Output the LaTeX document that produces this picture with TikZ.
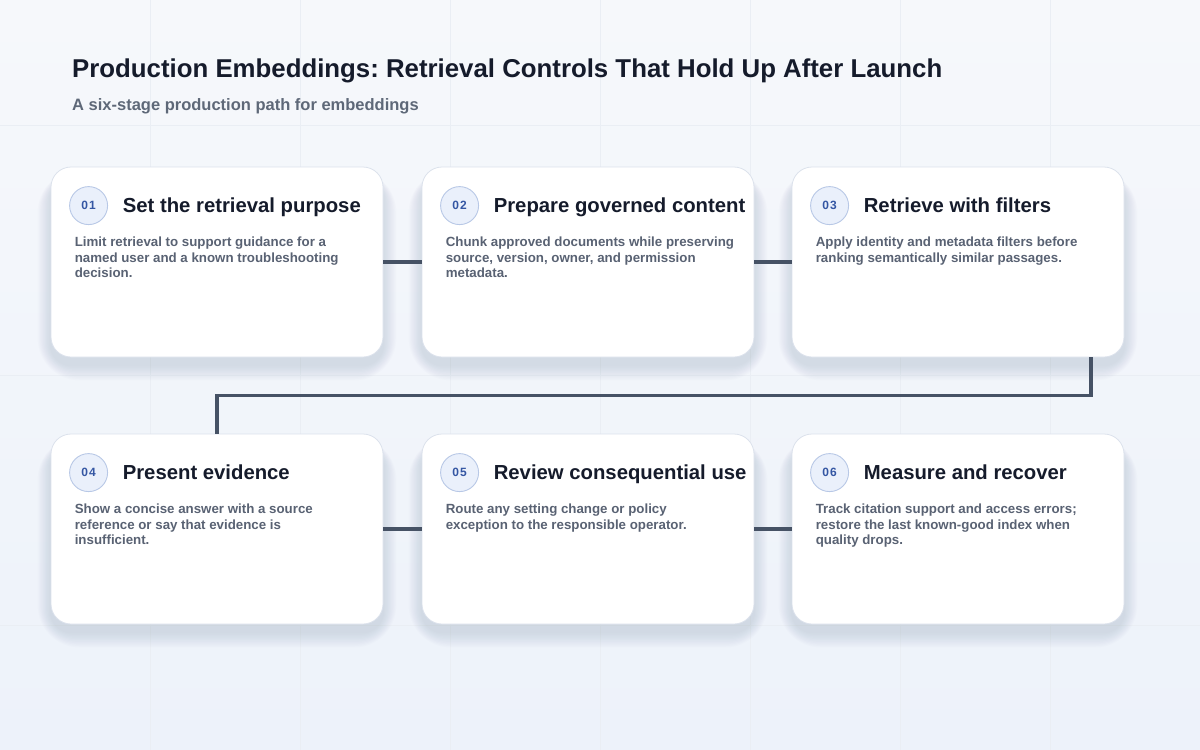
\documentclass[tikz,border=0pt]{standalone}
\usepackage{fontspec}
\setmainfont{Liberation Sans}
\frenchspacing
\usetikzlibrary{positioning,calc}
\definecolor{bgtop}{HTML}{F6F8FB}
\definecolor{bgbot}{HTML}{EDF2FA}
\definecolor{gridc}{HTML}{EAEEF4}
\definecolor{titlec}{HTML}{151B2B}
\definecolor{subc}{HTML}{5E6878}
\definecolor{bodyc}{HTML}{596273}
\definecolor{cardline}{HTML}{DCE2EC}
\definecolor{badgefill}{HTML}{EAF0FB}
\definecolor{badgeline}{HTML}{B8C8E6}
\definecolor{badgetext}{HTML}{3456A3}
\definecolor{linkc}{HTML}{465265}
\definecolor{shadowc}{HTML}{5A6A8A}
\tikzset{
  card/.style={draw=cardline, line width=0.8pt, fill=white, rounded corners=20pt,
    minimum width=332pt, minimum height=190pt, inner sep=0pt},
  badge/.style={circle, draw=badgeline, line width=0.9pt, fill=badgefill, minimum size=38pt, inner sep=0pt,
    font=\fontsize{12}{14}\selectfont\bfseries, text=badgetext},
  cardtitle/.style={anchor=base west, inner sep=0pt, font=\fontsize{20.3}{24}\selectfont\bfseries, text=titlec},
  cardbody/.style={anchor=north west, inner sep=0pt, align=left, font=\fontsize{13.3}{15.2}\selectfont\bfseries, text=bodyc},
  link/.style={draw=linkc, line width=3.6pt},
}
\begin{document}
\begin{tikzpicture}[x=1pt,y=-1pt]
\useasboundingbox (0,0) rectangle (1200,750);
\shade[top color=bgtop, bottom color=bgbot] (0,0) rectangle (1200,750);
\foreach \gx in {150,300,...,1050} \draw[gridc, line width=0.6pt] (\gx,0) -- (\gx,750);
\foreach \gy in {125,375,625} \draw[gridc, line width=0.6pt] (0,\gy) -- (1200,\gy);

\node[anchor=base west, inner sep=0pt, font=\fontsize{25.8}{30}\selectfont\bfseries, text=titlec] (title) at (72,77) {Production Embeddings: Retrieval Controls That Hold Up After Launch};
\node[anchor=base west, inner sep=0pt, font=\fontsize{16.5}{19}\selectfont\bfseries, text=subc] (subtitle) at (72,110) {A six-stage production path for embeddings};

% soft shadows
\foreach \cx/\cy in {217/262,588/262,958/262,217/529,588/529,958/529}{
  \foreach \s in {2,4,...,22}{
    \fill[shadowc, opacity=0.014, rounded corners={20pt+\s pt}]
      (\cx-166-\s*0.6, \cy-95+12-\s*0.4) rectangle (\cx+166+\s*0.6, \cy+95+8+\s*0.7);
  }
}

% cards
\node[card] (c1) at (217,262) {};
\node[card] (c2) at (588,262) {};
\node[card] (c3) at (958,262) {};
\node[card] (c4) at (217,529) {};
\node[card] (c5) at (588,529) {};
\node[card] (c6) at (958,529) {};

% connectors
\draw[link] (c1.east) -- (c2.west);
\draw[link] (c2.east) -- (c3.west);
\coordinate (k0) at ([xshift=133pt]c3.south);
\coordinate (k1) at ($(k0)+(0,38)$);
\coordinate (k2) at (c4.north |- k1);
\draw[link] (k0) -- (k1) -- (k2) -- (c4.north);
\draw[link] (c4.east) -- (c5.west);
\draw[link] (c5.east) -- (c6.west);

% card contents
\foreach \c/\n/\t/\b in {
  c1/1/{Set the retrieval purpose}/{Limit retrieval to support guidance for a\\named user and a known troubleshooting\\decision.},
  c2/2/{Prepare governed content}/{Chunk approved documents while preserving\\source, version, owner, and permission\\metadata.},
  c3/3/{Retrieve with filters}/{Apply identity and metadata filters before\\ranking semantically similar passages.},
  c4/4/{Present evidence}/{Show a concise answer with a source\\reference or say that evidence is\\insufficient.},
  c5/5/{Review consequential use}/{Route any setting change or policy\\exception to the responsible operator.},
  c6/6/{Measure and recover}/{Track citation support and access errors;\\restore the last known-good index when\\quality drops.}}
{
  \node[badge] (\c b) at ([xshift=38pt,yshift=-39pt]\c.north west) {0\kern0.9pt\n};
  \node[cardtitle] (\c t) at ([xshift=72pt,yshift=-46pt]\c.north west) {\t};
  \node[cardbody] (\c d) at ([xshift=24pt,yshift=-70.5pt]\c.north west) {\b};
}
\end{tikzpicture}
\end{document}
